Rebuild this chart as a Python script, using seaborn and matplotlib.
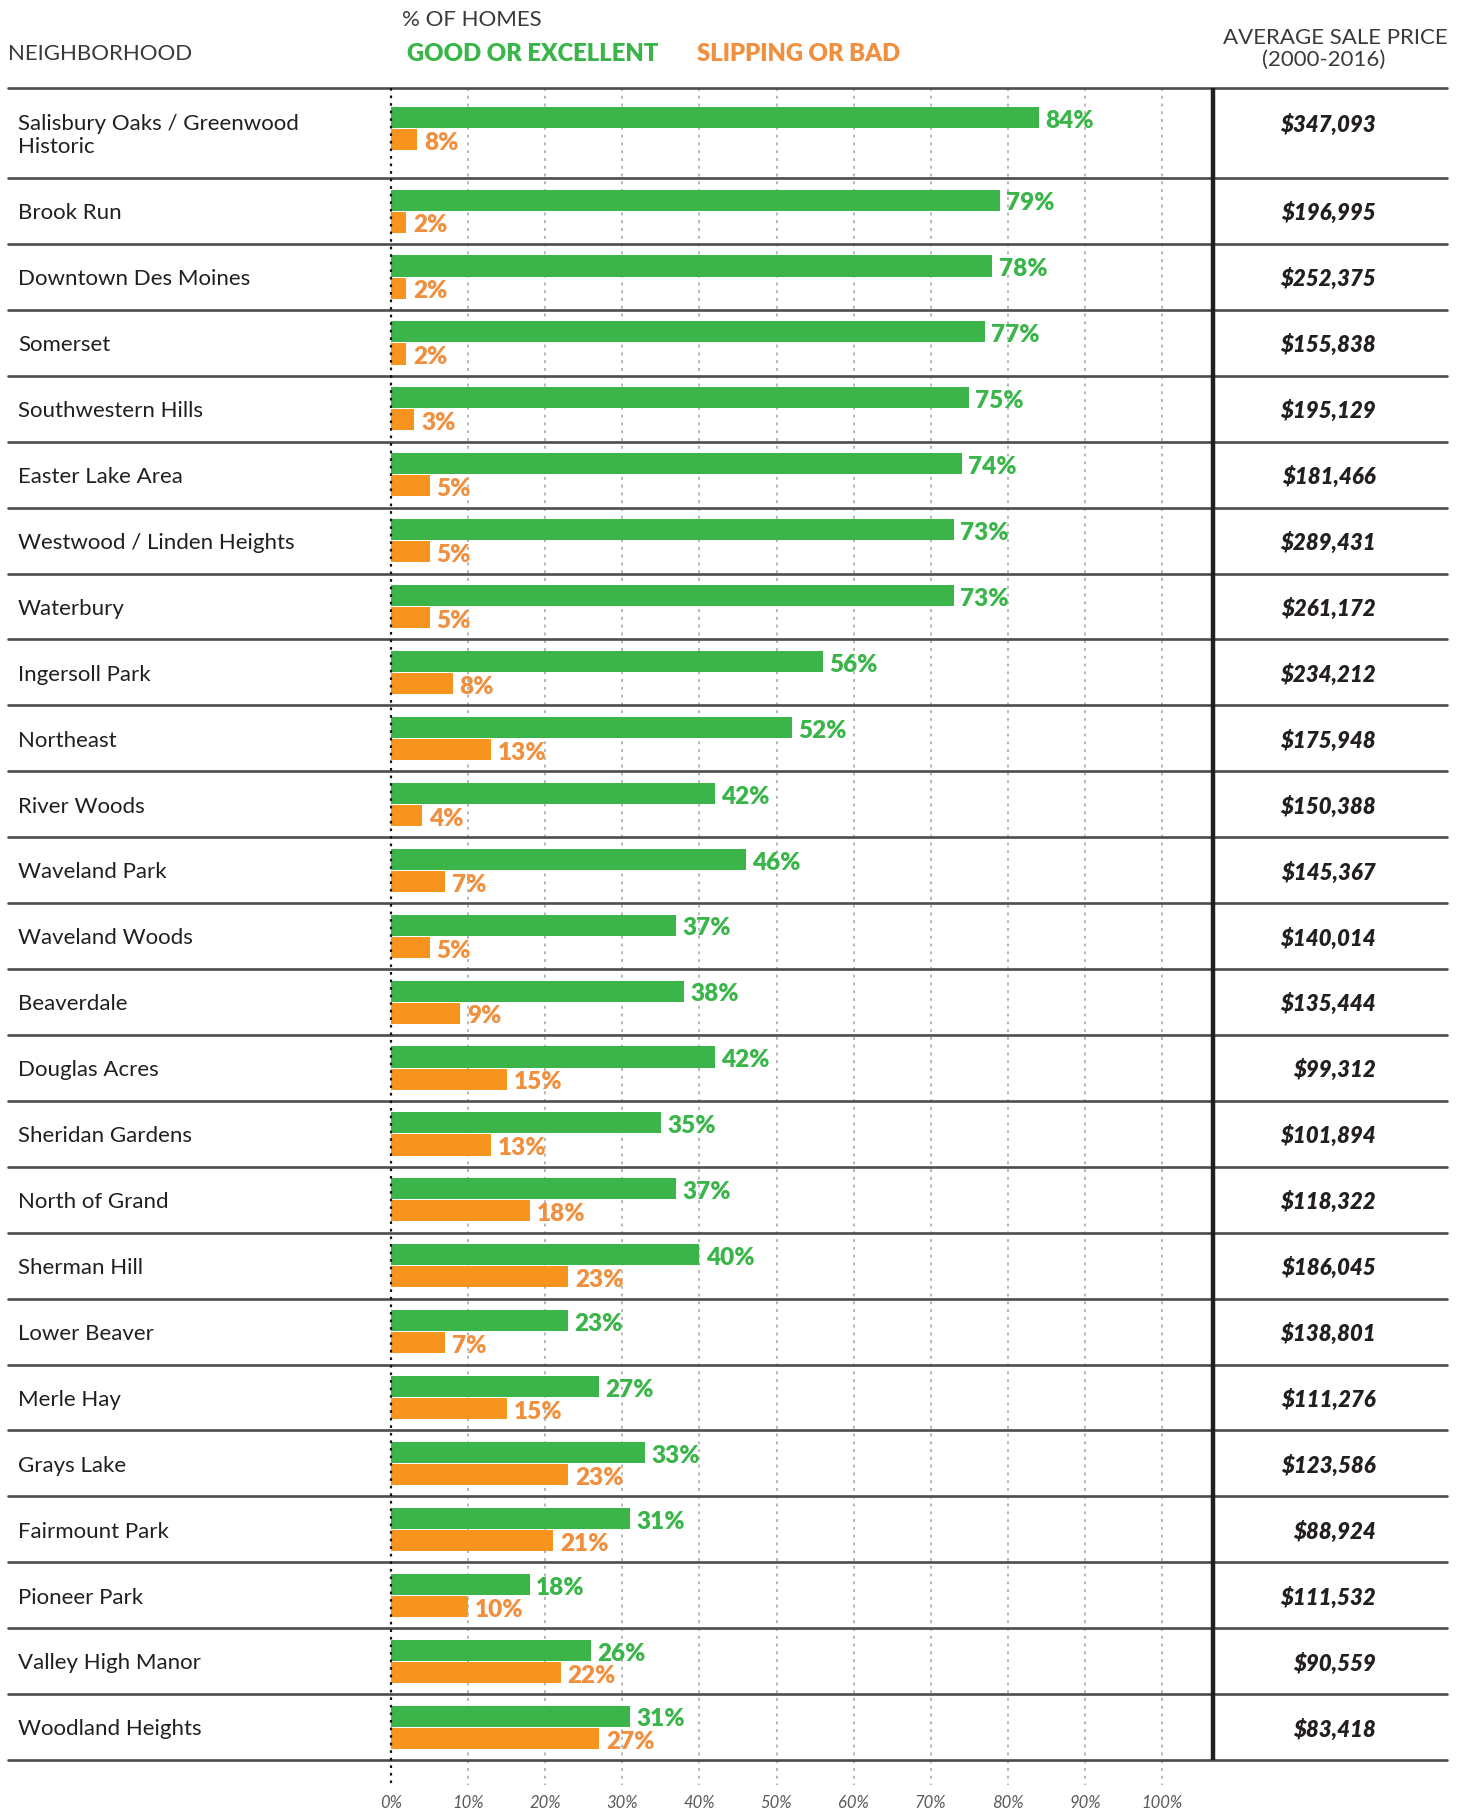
import numpy as np
import pandas as pd
import matplotlib
matplotlib.use("Agg")
import matplotlib.pyplot as plt
import seaborn as sns

neighborhoods = ["Salisbury Oaks / Greenwood\nHistoric", "Brook Run", "Downtown Des Moines", "Somerset",
                 "Southwestern Hills", "Easter Lake Area", "Westwood / Linden Heights", "Waterbury",
                 "Ingersoll Park", "Northeast", "River Woods", "Waveland Park", "Waveland Woods",
                 "Beaverdale", "Douglas Acres", "Sheridan Gardens", "North of Grand", "Sherman Hill",
                 "Lower Beaver", "Merle Hay", "Grays Lake", "Fairmount Park", "Pioneer Park",
                 "Valley High Manor", "Woodland Heights"]
# labelled values
good = [84, 79, 78, 77, 75, 74, 73, 73, 56, 52, 42, 46, 37, 38, 42, 35, 37, 40, 23, 27, 33, 31, 18, 26, 31]
bad = [8, 2, 2, 2, 3, 5, 5, 5, 8, 13, 4, 7, 5, 9, 15, 13, 18, 23, 7, 15, 23, 21, 10, 22, 27]
# drawn bar lengths as they appear in the picture (first orange bar is drawn short)
bad_bar = [3.4, 2, 2, 2, 3, 5, 5, 5, 8, 13, 4, 7, 5, 9, 15, 13, 18, 23, 7, 15, 23, 21, 10, 22, 27]
prices = [347093, 196995, 252375, 155838, 195129, 181466, 289431, 261172, 234212, 175948, 150388,
          145367, 140014, 135444, 99312, 101894, 118322, 186045, 138801, 111276, 123586, 88924,
          111532, 90559, 83418]
tick_values = [0, 10, 20, 30, 40, 50, 60, 70, 80, 90, 100]
tick_labels = [f"{v}%" for v in tick_values]

GREEN = "#3BB54A"
ORANGE = "#F7941E"
GREEN_T = "#3AB54A"
ORANGE_T = "#F0903E"
DARK = "#231F20"
HEAD = "#3A3A3A"

sns.set_theme(style="white")
plt.rcParams["font.family"] = ["Lato", "DejaVu Sans"]

W, H = 1466, 1809
fig = plt.figure(figsize=(W / 100, H / 100), dpi=100)

# layout in pixels
X0 = 391.0          # 0% position
PXP = 7.71          # px per percent
TOP, BOT = 88.0, 1760.0
LEFT, RIGHT = 8.0, 1447.0
first_h = 1.366
n = len(neighborhoods)
total_units = first_h + (n - 1)
PXU = (BOT - TOP) / total_units

def xd(px):
    return (px - X0) / PXP

def yd(px):
    return (px - TOP) / PXU

ax = fig.add_axes([LEFT / W, 1 - BOT / H, (RIGHT - LEFT) / W, (BOT - TOP) / H])

row_tops = np.concatenate([[0.0], first_h + np.arange(n - 1)])
row_bottoms = np.concatenate([[first_h], first_h + 1 + np.arange(n - 1)])
row_centers = (row_tops + row_bottoms) / 2
bar_centers = row_centers.copy()
bar_centers[0] = yd(128.5)
GOFF, BOFF = -0.165, 0.17

df = pd.DataFrame({"name": neighborhoods, "good": good, "bad": bad_bar,
                   "gpos": bar_centers + GOFF, "bpos": bar_centers + BOFF})

sns.barplot(data=df, x="good", y="gpos", orient="h", native_scale=True, color=GREEN,
            width=0.32, linewidth=0, errorbar=None, saturation=1, ax=ax)
sns.barplot(data=df, x="bad", y="bpos", orient="h", native_scale=True, color=ORANGE,
            width=0.32, linewidth=0, errorbar=None, saturation=1, ax=ax)

ax.set_xlim(xd(LEFT), xd(RIGHT))
ax.set_ylim(total_units, 0)
for s in ax.spines.values():
    s.set_visible(False)
ax.set_xlabel("")
ax.set_ylabel("")
ax.set_yticks([])
ax.set_xticks(tick_values)
ax.set_xticklabels(tick_labels, fontsize=12, fontstyle="italic", color="#5A5A5A")
ax.tick_params(axis="x", length=0, pad=25)
ax.grid(False)

# gridlines
grid_bottom = yd(1785)
ax.vlines(tick_values[1:], 0, grid_bottom, colors="#B5B5B5", linewidth=1.4,
          linestyles=(0, (1.5, 2.5)), clip_on=False, zorder=0)
ax.vlines([0], 0, grid_bottom, colors="#111111", linewidth=1.6,
          linestyles=(0, (1.2, 2.2)), clip_on=False, zorder=3)

# horizontal row lines
for yv in np.concatenate([[0.0], row_bottoms]):
    ax.axhline(yv, color="#4D4D4D", linewidth=1.9, clip_on=False, zorder=1)

# black vertical separator
ax.vlines([xd(1213)], 0, total_units, colors=DARK, linewidth=3.2, clip_on=False, zorder=4)

DY = 0.035  # visual centring of text

# neighborhood names
for name, yc in zip(neighborhoods, row_centers):
    ax.text(xd(18), yc + DY, name, ha="left", va="center", fontsize=16, color=DARK,
            linespacing=1.15)

# value labels
for g, bb, b, yc in zip(good, bad_bar, bad, bar_centers):
    ax.text(g + 0.8, yc + GOFF + 0.05, f"{g}%", ha="left", va="center", fontsize=17.5,
            fontweight="heavy", color=GREEN_T)
    ax.text(bb + 0.9, yc + BOFF + 0.05, f"{b}%", ha="left", va="center", fontsize=17.5,
            fontweight="heavy", color=ORANGE_T)

# prices
price_y = row_centers.copy()
price_y[0] = yd(122.5)
for p, yc in zip(prices, price_y):
    ax.text(xd(1376), yc + DY, f"${p:,}", ha="right", va="center", fontsize=16,
            fontweight="heavy", fontstyle="italic", color=DARK)

# headers
def ft(px, py, s, **kw):
    fig.text(px / W, 1 - py / H, s, **kw)

ft(8, 54, "NEIGHBORHOOD", ha="left", va="center", fontsize=16, color=HEAD)
ft(402, 20, "% OF HOMES", ha="left", va="center", fontsize=16, color=HEAD)
ft(407, 54, "GOOD OR EXCELLENT", ha="left", va="center", fontsize=17.2, fontweight="heavy", color=GREEN_T)
ft(697, 54, "SLIPPING OR BAD", ha="left", va="center", fontsize=17.2, fontweight="heavy", color=ORANGE_T)
ft(1335, 38, "AVERAGE SALE PRICE", ha="center", va="center", fontsize=16, color=HEAD)
ft(1324, 60, "(2000-2016)", ha="center", va="center", fontsize=16, color=HEAD)

fig.savefig("out.png", dpi=100, facecolor="white")
